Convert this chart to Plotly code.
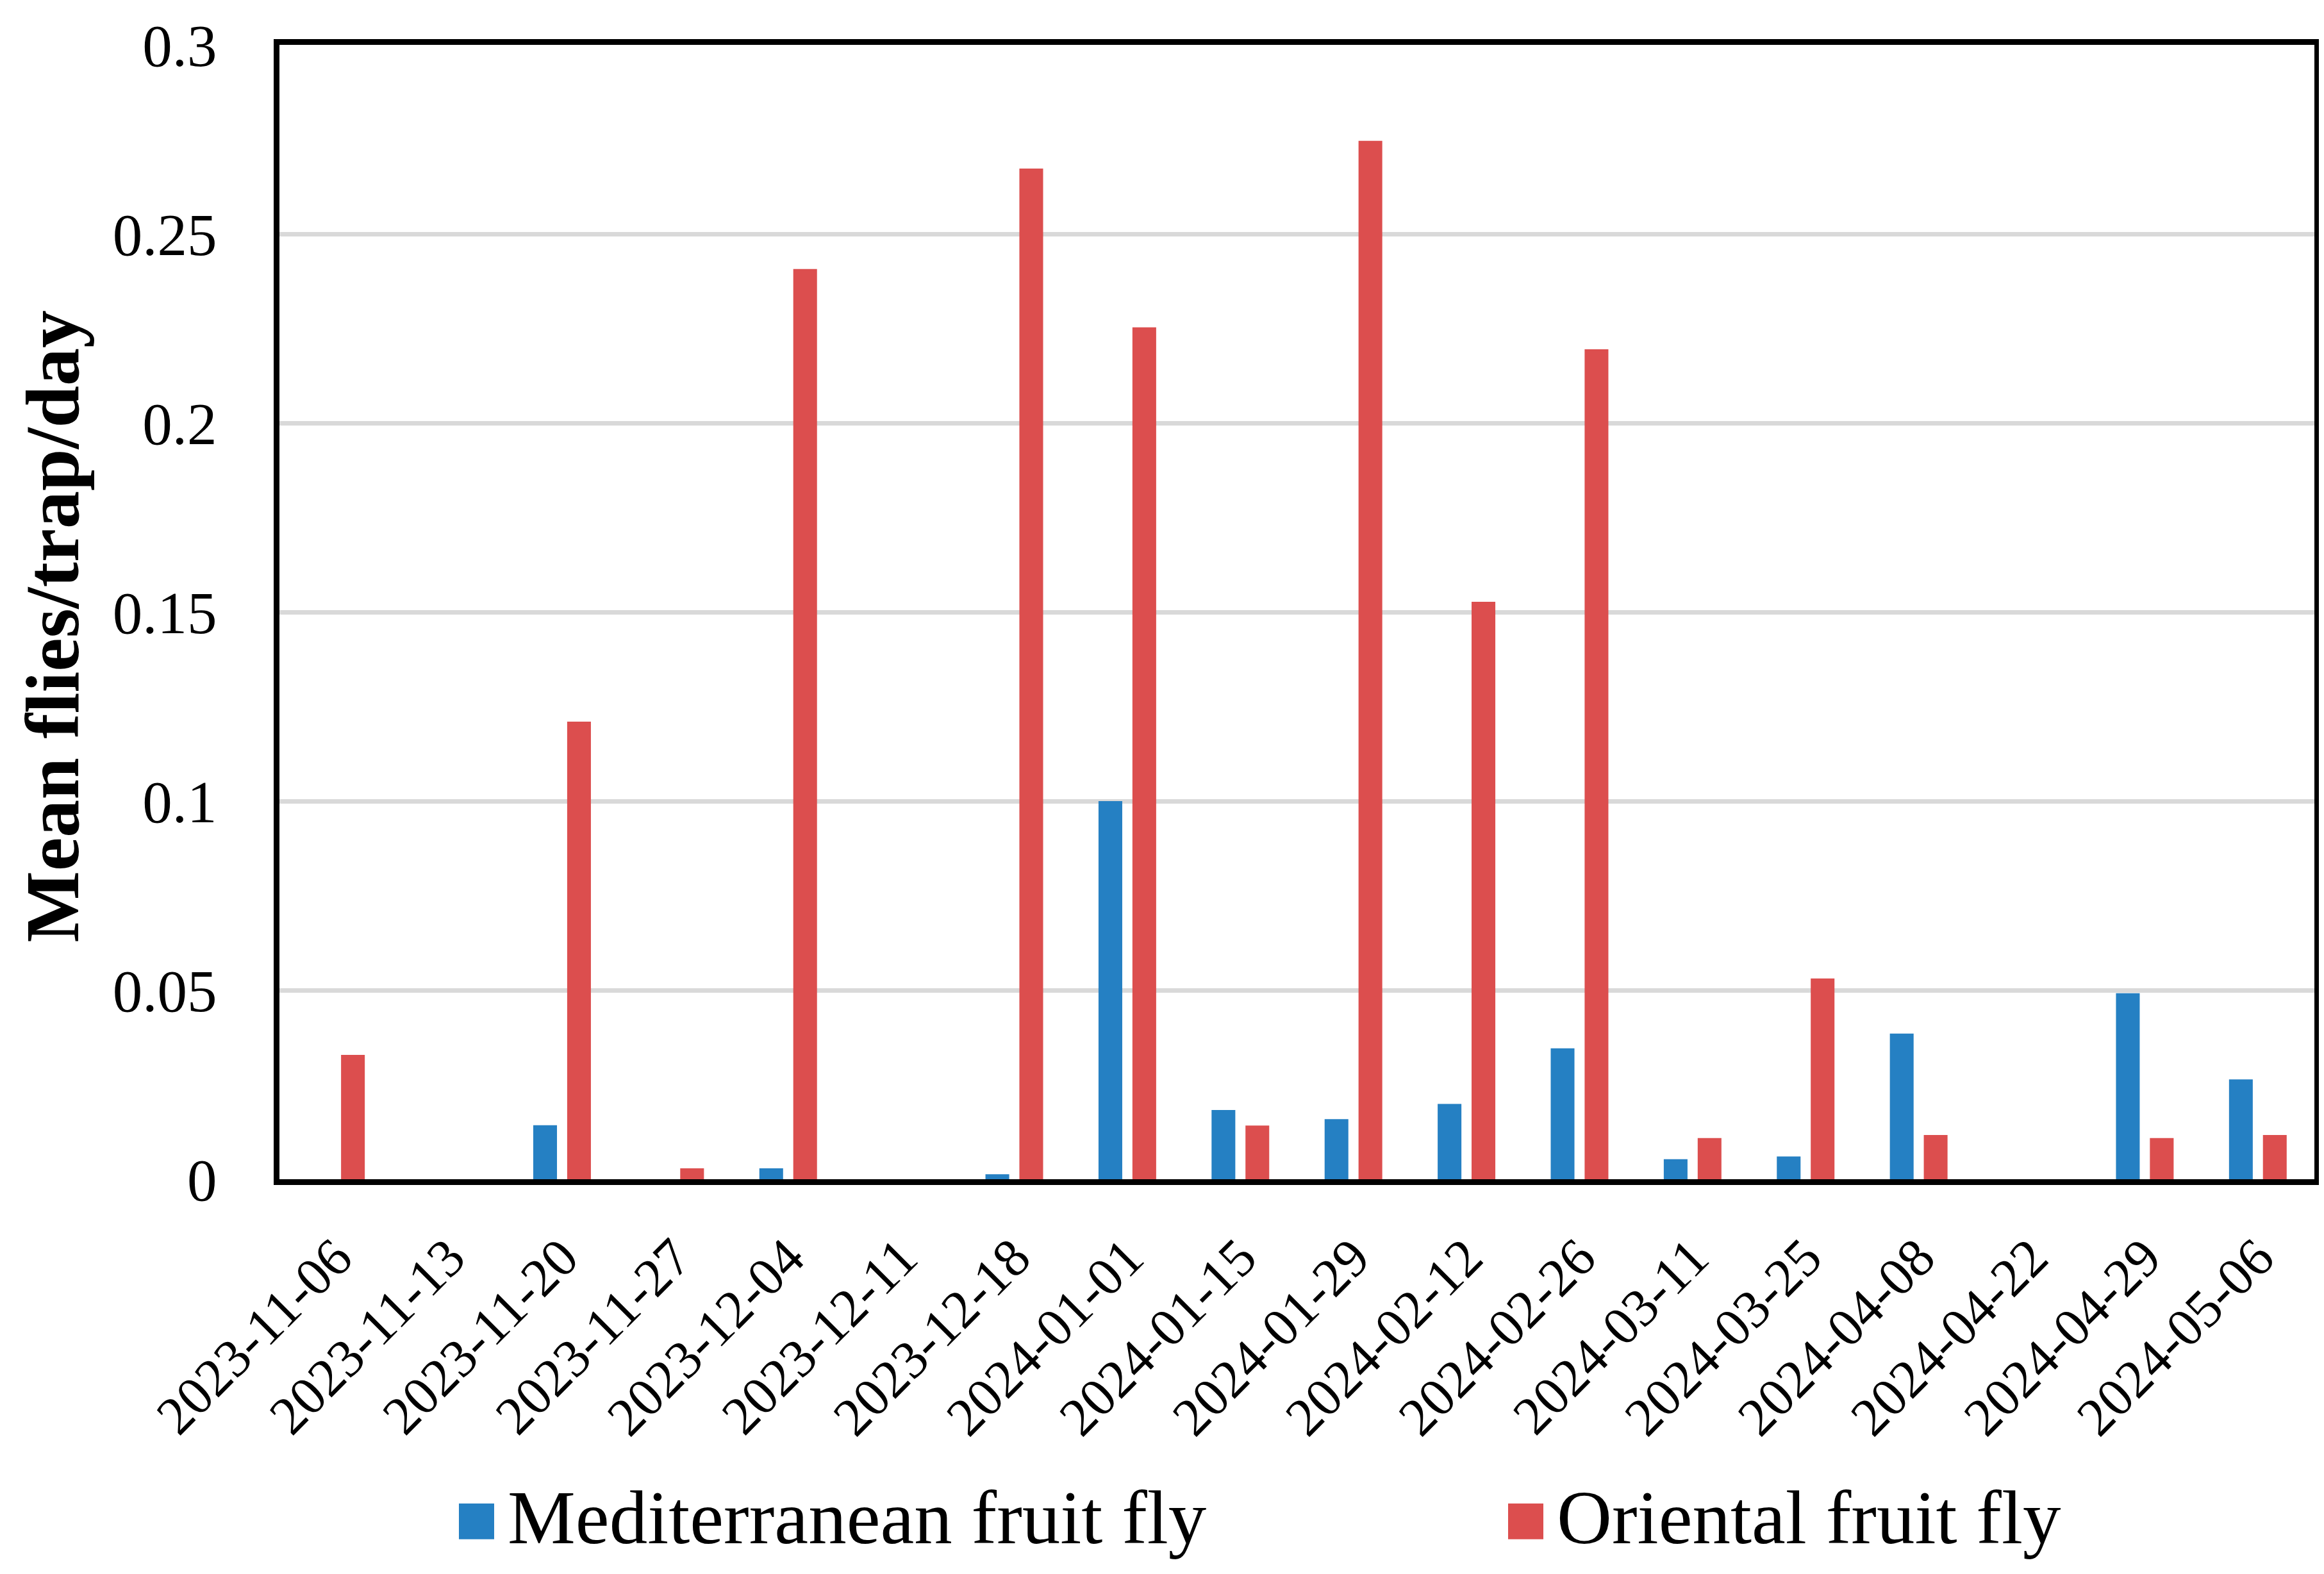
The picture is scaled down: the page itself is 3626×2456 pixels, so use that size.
import plotly.graph_objects as go

dates = ["2023-11-06", "2023-11-13", "2023-11-20", "2023-11-27", "2023-12-04", "2023-12-11",
         "2023-12-18", "2024-01-01", "2024-01-15", "2024-01-29", "2024-02-12", "2024-02-26",
         "2024-03-11", "2024-03-25", "2024-04-08", "2024-04-22", "2024-04-29", "2024-05-06"]
medfly = [0, 0, 0.0143, 0, 0.0029, 0, 0.0013, 0.1, 0.0183, 0.0159, 0.0199, 0.0346,
          0.0053, 0.006, 0.0385, 0, 0.0492, 0.0264]
oriental = [0.0329, 0, 0.121, 0.0029, 0.2407, 0, 0.2673, 0.2253, 0.0142, 0.2746, 0.1527, 0.2195,
            0.0109, 0.0531, 0.0117, 0, 0.0109, 0.0117]
series_names = ["Mediterranean fruit fly", "Oriental fruit fly"]
colors = ["#2580C3", "#DC4E4E"]
y_ticks = [0, 0.05, 0.1, 0.15, 0.2, 0.25, 0.3]
y_tick_text = ["0", "0.05", "0.1", "0.15", "0.2", "0.25", "0.3"]
y_title = "Mean flies/trap/day"

W, H = 3626, 2456
L, R, T, B = 428, 23, 55, 624
FONT = "Liberation Serif"
PW, PH = W - L - R, H - T - B

fig = go.Figure()
for name, vals, col in zip(series_names, [medfly, oriental], colors):
    fig.add_trace(go.Bar(x=dates, y=vals, name=name, marker=dict(color=col, line=dict(width=0)),
                         showlegend=False))

fig.update_layout(
    width=W, height=H,
    margin=dict(l=L, r=R, t=T, b=B),
    paper_bgcolor="white", plot_bgcolor="white",
    barmode="group", bargap=0.4, bargroupgap=0.3,
    font=dict(family=FONT, color="black"),
)
fig.update_xaxes(
    type="category", tickangle=-45, tickfont=dict(size=84, family=FONT, color="black"),
    showline=True, mirror=True, linecolor="black", linewidth=9, ticks="",
    ticklabelstandoff=30, showgrid=False,
)
fig.update_yaxes(
    range=[0, 0.3], tickvals=y_ticks, ticktext=y_tick_text,
    tickfont=dict(size=93, family=FONT, color="black"),
    showline=True, mirror=True, linecolor="black", linewidth=9, ticks="",
    ticklabelstandoff=70,
    showgrid=True, gridcolor="#D9D9D9", gridwidth=7, zeroline=False,
)

# Y-axis title as rotated annotation (slightly below plot centre, as in the reference)
fig.add_annotation(xref="paper", yref="paper", x=(74 - L) / PW, y=1 - (966 - T) / PH,
                   text="<b>" + y_title + "</b>", textangle=-90, showarrow=False,
                   xanchor="center", yanchor="middle",
                   font=dict(size=118, family=FONT, color="black"))

# Legend drawn as paper-positioned shapes and text
legend_items = [(708, series_names[0], colors[0]), (2345, series_names[1], colors[1])]
for x0, name, col in legend_items:
    fig.add_shape(type="rect", xref="paper", yref="paper",
                  x0=(x0 - L) / PW, x1=(x0 + 55 - L) / PW,
                  y0=-(2396 - (H - B)) / PH, y1=-(2340 - (H - B)) / PH,
                  fillcolor=col, line=dict(width=0))
    fig.add_annotation(xref="paper", yref="paper",
                       x=(x0 + 74 - L) / PW, y=-(2362 - (H - B)) / PH,
                       text=name, showarrow=False, xanchor="left", yanchor="middle",
                       font=dict(size=119, family=FONT, color="black"))

fig.write_html("out.html")
